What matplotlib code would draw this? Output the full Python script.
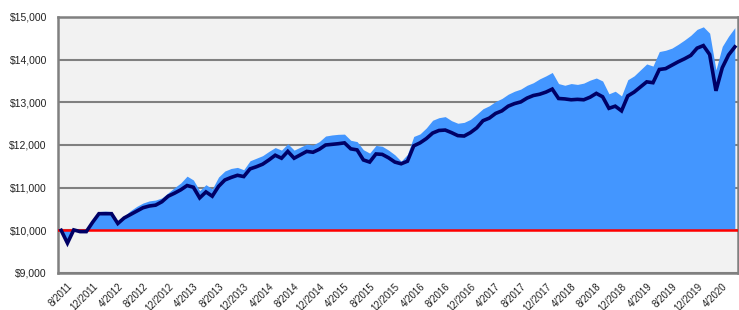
import matplotlib
matplotlib.use("Agg")
import matplotlib.pyplot as plt
import matplotlib.ticker as mticker

# ---- data ----
months = [f"{(6 + k) % 12 + 1}/{2011 + (6 + k) // 12}" for k in range(108)]  # 7/2011 .. 6/2020

fund = [10000, 9700, 10010, 9970, 9970, 10190, 10390, 10390, 10390, 10160,
        10290, 10370, 10450, 10530, 10570, 10590, 10670, 10800, 10870, 10950,
        11050, 11010, 10760, 10900, 10800, 11030, 11180, 11240, 11290, 11260,
        11440, 11490, 11550, 11650, 11760, 11690, 11850, 11690, 11770, 11850,
        11830, 11900, 12000, 12015, 12030, 12050, 11910, 11885, 11650, 11600,
        11790, 11780, 11700, 11600, 11560, 11620, 11980, 12050, 12150, 12280,
        12340, 12350, 12290, 12220, 12210, 12290, 12400, 12570, 12630, 12740,
        12800, 12910, 12970, 13010, 13100, 13160, 13190, 13240, 13310, 13090,
        13080, 13060, 13070, 13060, 13120, 13210, 13130, 12860, 12910, 12800,
        13150, 13240, 13360, 13480, 13460, 13770, 13790, 13870, 13950, 14020,
        14100, 14270, 14330, 14120, 13270, 13810, 14110, 14300]

bench = [10000, 9690, 10040, 9990, 9990, 10220, 10440, 10450, 10440, 10190,
         10330, 10460, 10560, 10640, 10690, 10710, 10760, 10880, 11000, 11110,
         11270, 11180, 10930, 11070, 10970, 11250, 11390, 11450, 11475, 11420,
         11630, 11690, 11750, 11850, 11940, 11880, 12030, 11880, 11950, 12020,
         12000, 12080, 12210, 12235, 12250, 12255, 12110, 12080, 11890, 11810,
         11990, 11970, 11880, 11770, 11620, 11780, 12200, 12260, 12400, 12580,
         12640, 12665, 12570, 12510, 12530, 12600, 12720, 12850, 12920, 13020,
         13090, 13190, 13260, 13310, 13400, 13460, 13550, 13620, 13700, 13440,
         13400, 13440, 13420, 13450, 13520, 13570, 13500, 13200, 13260, 13150,
         13530, 13620, 13760, 13900, 13850, 14190, 14220, 14270, 14360, 14460,
         14570, 14710, 14770, 14620, 13760, 14310, 14550, 14750]

baseline = 10000
y_ticks = [9000, 10000, 11000, 12000, 13000, 14000, 15000]
label_idx = list(range(1, 108, 4))

# ---- figure ----
plt.rcParams['font.family'] = ['Liberation Sans', 'DejaVu Sans']
fig = plt.figure(figsize=(7.39, 3.10), dpi=100)
ax = fig.add_axes([58 / 739, 1 - 273 / 310, 680 / 739, 256 / 310])
ax.set_facecolor('#f2f2f2')

x = list(range(len(fund)))
ax.fill_between(x, bench, baseline, color='#4396ff', linewidth=0, zorder=2)
ax.plot(x, fund, color='#000066', linewidth=2.6, zorder=4, solid_joinstyle='miter')
ax.axhline(baseline, color='#ff0000', linewidth=1.8, zorder=3)

ax.set_xlim(-0.5, len(fund) - 0.5)
ax.set_ylim(9000, 15000)
ax.set_yticks(y_ticks)
ax.yaxis.set_major_formatter(mticker.FuncFormatter(lambda v, p: f"${v:,.0f}"))
ax.grid(axis='y', color='#808080', linewidth=1.5, zorder=1)
ax.set_axisbelow(True)

ax.set_xticks(label_idx)
ax.set_xticklabels([months[i] for i in label_idx], rotation=45, ha='right',
                   rotation_mode='anchor', fontsize=7, color='#222222')
ax.tick_params(axis='x', length=0, pad=6)
ax.tick_params(axis='y', length=0, pad=8, labelsize=7.5, labelcolor='#222222')

for s in ax.spines.values():
    s.set_color('#808080')
    s.set_linewidth(1.8)

fig.savefig('out.png', dpi=100)
